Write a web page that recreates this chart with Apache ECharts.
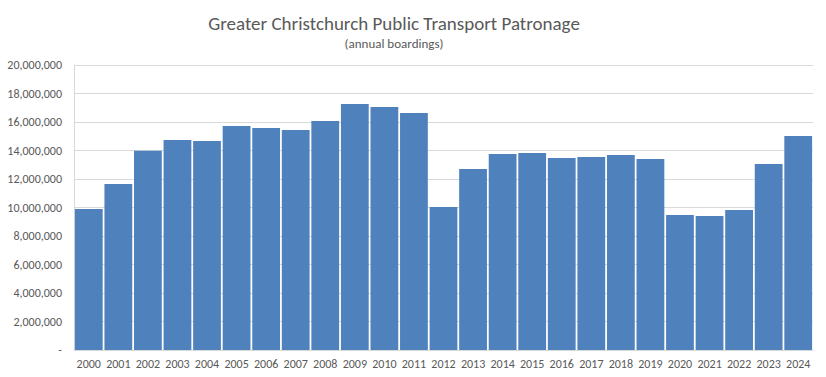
<!DOCTYPE html>
<html>
<head>
<meta charset="utf-8">
<script src="https://cdn.jsdelivr.net/npm/echarts@6/dist/echarts.min.js"></script>
<style>
  html, body { margin: 0; padding: 0; background: #fff; }
  #chart { width: 826px; height: 377px; }
</style>
</head>
<body>
<div id="chart"></div>
<script>
var years = ['2000', '2001', '2002', '2003', '2004', '2005', '2006', '2007', '2008', '2009',
  '2010', '2011', '2012', '2013', '2014', '2015', '2016', '2017', '2018', '2019',
  '2020', '2021', '2022', '2023', '2024'];
var boardings = [9890000, 11650000, 13990000, 14740000, 14670000, 15720000, 15580000, 15440000, 16070000, 17260000,
  17050000, 16630000, 10040000, 12700000, 13750000, 13820000, 13470000, 13540000, 13680000, 13400000,
  9470000, 9400000, 9820000, 13050000, 15020000];
var yTicks = { min: 0, max: 20000000, step: 2000000 };

var font = "Carlito, 'Liberation Sans', sans-serif";
var grey = '#595959';
var lineGrey = '#d9d9d9';

var chart = echarts.init(document.getElementById('chart'), null, { renderer: 'svg' });
chart.setOption({
  animation: false,
  title: {
    text: 'Greater Christchurch Public Transport Patronage',
    subtext: '(annual boardings)',
    left: 389,
    textAlign: 'center',
    top: 9,
    itemGap: 4,
    textStyle: { color: grey, fontSize: 19, fontWeight: 'normal', fontFamily: font },
    subtextStyle: { color: grey, fontSize: 13, fontFamily: font }
  },
  grid: { left: 74, right: 13, top: 65, bottom: 27 },
  xAxis: {
    type: 'category',
    data: years,
    axisLine: { lineStyle: { color: lineGrey, width: 1 } },
    axisTick: { show: false },
    axisLabel: { color: grey, fontSize: 12, fontFamily: font, margin: 8, interval: 0 }
  },
  yAxis: {
    type: 'value',
    min: yTicks.min,
    max: yTicks.max,
    interval: yTicks.step,
    axisLine: { show: true, lineStyle: { color: lineGrey } },
    axisTick: { show: false },
    splitLine: { lineStyle: { color: lineGrey, width: 1 } },
    axisLabel: {
      color: grey,
      fontSize: 12,
      fontFamily: font,
      margin: 12,
      formatter: function(v) {
        if (v === 0) return '-';
        return v.toString().replace(/\B(?=(\d{3})+(?!\d))/g, ',');
      }
    }
  },
  series: [{
    type: 'bar',
    data: boardings,
    barCategoryGap: '6%',
    itemStyle: { color: '#4f81bd' }
  }]
});
</script>
</body>
</html>
